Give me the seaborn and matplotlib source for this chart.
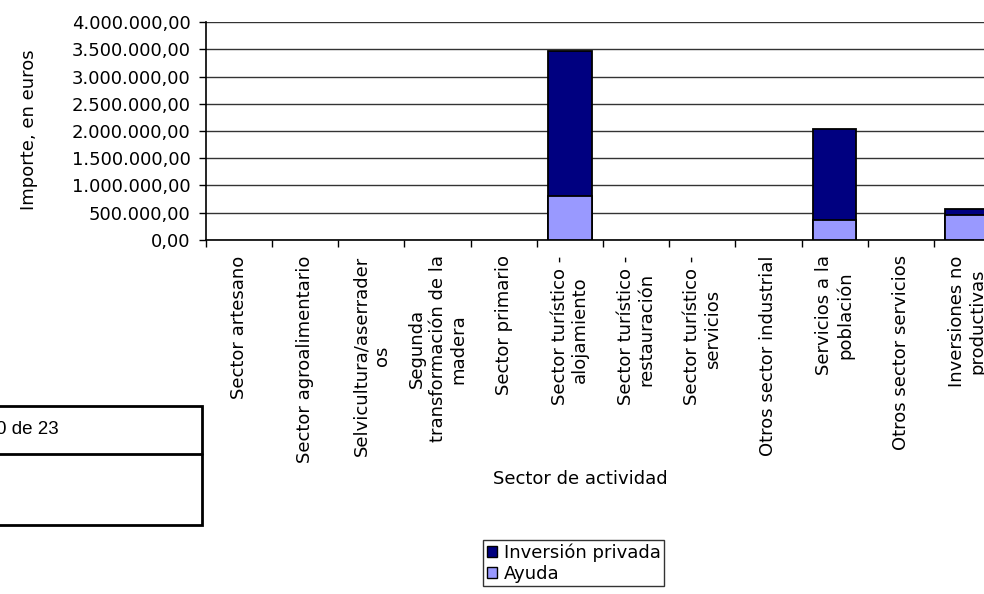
import matplotlib
matplotlib.use("Agg")
import matplotlib.pyplot as plt
import matplotlib.ticker as mticker
from matplotlib.patches import Rectangle, Patch
from matplotlib.lines import Line2D
import numpy as np
import pandas as pd
import seaborn as sns

# data
sectores = [
    "Sector artesano",
    "Sector agroalimentario",
    "Selvicultura/aserrader\nos",
    "Segunda\ntransformación de la\nmadera",
    "Sector primario",
    "Sector turístico -\nalojamiento",
    "Sector turístico -\nrestauración",
    "Sector turístico -\nservicios",
    "Otros sector industrial",
    "Servicios a la\npoblación",
    "Otros sector servicios",
    "Inversiones no\nproductivas",
]
ayuda = [0, 0, 0, 0, 0, 815000, 0, 0, 0, 372000, 0, 460000]
inversion_privada = [0, 0, 0, 0, 0, 2660000, 0, 0, 0, 1660000, 0, 100000]
y_ticks = [0, 500000, 1000000, 1500000, 2000000, 2500000, 3000000, 3500000, 4000000]

df = pd.DataFrame({"sector": sectores, "ayuda": ayuda, "privada": inversion_privada})
df["total"] = df["ayuda"] + df["privada"]

sns.set_style("white")
plt.rcParams["font.family"] = ["DejaVu Sans"]
plt.rcParams["text.color"] = "black"
plt.rcParams["axes.labelcolor"] = "black"
plt.rcParams["xtick.color"] = "black"
plt.rcParams["ytick.color"] = "black"

FS = 13
W, H = 984, 594
fig = plt.figure(figsize=(W / 100, H / 100), dpi=100)
# plot area runs past the right edge, as in the cropped reference
ax = fig.add_axes([206 / W, 1 - 240 / H, (1000 - 206) / W, (240 - 22) / H])

dark = "#000080"
light = "#9999FF"
sns.barplot(data=df, x="sector", y="total", order=sectores, color=dark,
            width=0.66, edgecolor="black", linewidth=1.3, saturation=1, ax=ax, zorder=3)
sns.barplot(data=df, x="sector", y="ayuda", order=sectores, color=light,
            width=0.66, edgecolor="black", linewidth=1.3, saturation=1, ax=ax, zorder=4)
# empty bars draw no outline
for p in ax.patches:
    if p.get_height() == 0:
        p.set_linewidth(0)

ax.set_xlim(-0.5, len(sectores) - 0.5)
ax.set_ylim(0, 4000000)
ax.set_yticks(y_ticks)

def es_fmt(v, pos):
    s = f"{v:,.2f}"
    return s.replace(",", "X").replace(".", ",").replace("X", ".")

ax.yaxis.set_major_formatter(mticker.FuncFormatter(es_fmt))
ax.grid(axis="y", color="#333333", linewidth=1.0, zorder=0)
ax.set_axisbelow(True)

for s in ["top", "right"]:
    ax.spines[s].set_visible(False)
for s in ["left", "bottom"]:
    ax.spines[s].set_color("black")
    ax.spines[s].set_linewidth(1.2)

ax.tick_params(axis="y", length=5, width=1, labelsize=FS, pad=6, left=True)
ax.set_xticks(range(len(sectores)))
ax.set_xticklabels(sectores, rotation=90, ha="center", va="top",
                   multialignment="center", linespacing=1.2, fontsize=FS)
ax.tick_params(axis="x", length=0, pad=11)
ax.set_xticks(np.arange(-0.5, len(sectores), 1.0), minor=True)
ax.tick_params(axis="x", which="minor", length=5, width=1, bottom=True)

ax.set_xlabel("Sector de actividad", fontsize=FS)
ax.set_ylabel("Importe, en euros", fontsize=FS)
ax.xaxis.set_label_coords((580 - 206) / 794, (240 - 470) / 218)
ax.yaxis.set_label_coords((38 - 206) / 794, (240 - 130) / 218)

handles = [Patch(facecolor=dark, edgecolor="black", linewidth=1),
           Patch(facecolor=light, edgecolor="black", linewidth=1)]
leg = fig.legend(handles, ["Inversión privada", "Ayuda"], loc="upper left",
                 bbox_to_anchor=(483 / W, 1 - 540 / H), fontsize=FS,
                 frameon=True, fancybox=False, edgecolor="black",
                 handlelength=0.6, handleheight=0.6, handletextpad=0.35,
                 borderpad=0.2, labelspacing=0.15, borderaxespad=0)
leg.get_frame().set_linewidth(1)

# page footer box cut off at the left
fig.patches.append(Rectangle((-10 / W, 1 - 525 / H), 212 / W, 119 / H,
                             transform=fig.transFigure, fill=False,
                             edgecolor="black", linewidth=2))
fig.lines.append(Line2D([-10 / W, 202 / W], [1 - 454 / H, 1 - 454 / H],
                        transform=fig.transFigure, color="black", linewidth=2))
fig.text(-4 / W, 1 - 430 / H, "0 de 23", fontsize=13.5, family="Liberation Sans",
         ha="left", va="center")

fig.savefig("out.png", dpi=100)
